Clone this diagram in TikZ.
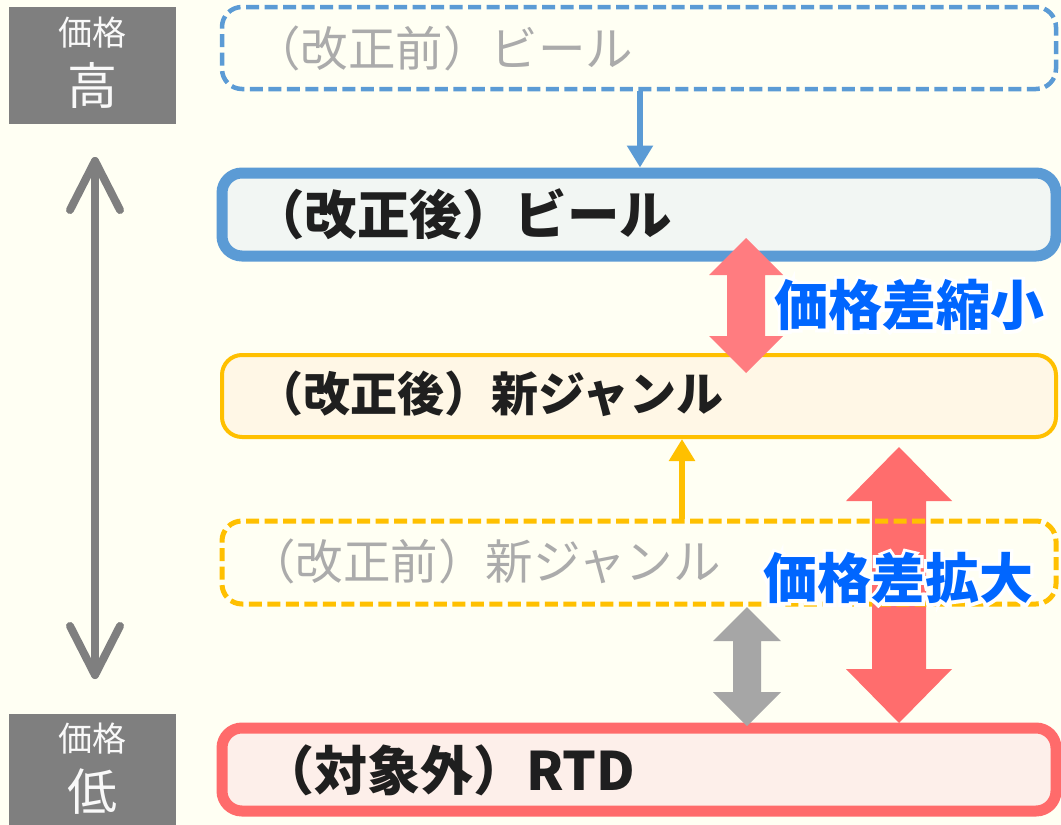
\documentclass[tikz,border=0pt]{standalone}
\usepackage{fontspec}
\newfontfamily\jp{Noto Sans CJK JP}
\newfontfamily\jpglow{Noto Sans CJK JP}[FakeBold=12]
\usetikzlibrary{arrows.meta}
\definecolor{bg}{HTML}{FFFFF3}
\definecolor{lblgray}{HTML}{7F7F7F}
\definecolor{bblue}{HTML}{5B9BD5}
\definecolor{yel}{HTML}{FFC000}
\definecolor{redb}{HTML}{FF6B6B}
\definecolor{pinkA}{HTML}{FF7C80}
\definecolor{redA}{HTML}{FF6D6D}
\definecolor{grayA}{HTML}{A6A6A6}
\definecolor{txtgray}{HTML}{ABABAB}
\definecolor{txtblue}{HTML}{0066FF}
\definecolor{fillblue}{HTML}{F2F6F3}
\definecolor{fillyel}{HTML}{FFF7E6}
\definecolor{fillred}{HTML}{FDEFEA}
\newcommand\blockarrow[7]{% color, cx, ytop, ybot, headlen, headhalf, shafthalf
  \fill[#1] (#2,#3) -- ++(#6,#5) -- (#2+#7,#3+#5) -- (#2+#7,#4-#5) -- (#2+#6,#4-#5)
    -- (#2,#4) -- (#2-#6,#4-#5) -- (#2-#7,#4-#5) -- (#2-#7,#3+#5) -- (#2-#6,#3+#5) -- cycle;}
\tikzset{
  lblbox/.style={fill=lblgray, inner sep=0pt, minimum width=167pt},
  lbltext/.style={text=white!95!gray, inner sep=0pt, font=\jp\fontsize{34}{34}\selectfont},
  lblbig/.style={text=white!95!gray, inner sep=0pt, font=\jp\fontsize{50}{50}\selectfont},
  catbox/.style={rounded corners=20pt, minimum width=834pt, inner sep=0pt},
  oldtext/.style={anchor=west, inner sep=0pt, text=txtgray, font=\jp\fontsize{47.5}{48}\selectfont},
  newtext/.style={anchor=west, inner sep=0pt, text=black!88, font=\jp\bfseries\fontsize{47}{47}\selectfont},
  gaptext/.style={inner sep=0pt, font=\jp\bfseries\fontsize{54}{54}\selectfont},
  glowtext/.style={inner sep=0pt, text=white, font=\jpglow\bfseries\fontsize{54}{54}\selectfont},
  vline/.style={draw=lblgray, line width=8pt, line cap=round, line join=round},
  shiftarrow/.style={line width=6pt, -{Triangle[length=22pt,width=25pt]}},
  olddash/.style={dash pattern=on 13pt off 5.5pt},
}
\begin{document}
\begin{tikzpicture}[x=1pt,y=-1pt]
\fill[bg] (0,0) rectangle (1061,825);
\useasboundingbox (0,0) rectangle (1061,825);
% price labels
\node[lblbox, minimum height=117pt] (hbox) at (92.5,65.5) {};
\node[lbltext] (hk) at (92,33) {価格};
\node[lblbig] (hv) at (92,85) {高};
\node[lblbox, minimum height=111pt] (lbox) at (92.5,769.5) {};
\node[lbltext] (lk) at (92,739) {価格};
\node[lblbig] (lv) at (92,792) {低};
% vertical price axis
\coordinate (hi) at (95,161);
\coordinate (lo) at (95,675);
\draw[vline] (hi) -- (lo);
\draw[vline] (hi) ++(-25,49) -- (hi) -- ++(25,49);
\draw[vline] (lo) ++(-25,-49) -- (lo) -- ++(25,-49);
% category boxes
\node[catbox, draw=bblue, line width=4.5pt, olddash, minimum height=82pt] (b1) at (639,48) {};
\node[catbox, draw=bblue, fill=fillblue, line width=11pt, minimum height=83pt] (b2) at (639,214.5) {};
\node[catbox, draw=yel, fill=fillyel, line width=4pt, minimum height=82pt] (b3) at (639,396) {};
\node[catbox, draw=redb, fill=fillred, line width=11pt, minimum height=83pt] (b5) at (639,769.5) {};
% shift connectors
\coordinate (xb) at (640,0);
\coordinate (xo) at (682,0);
\draw[shiftarrow, bblue] (b1.south -| xb) -- (b2.north -| xb);
% gap arrows
\blockarrow{redA}{899}{447}{723}{54}{53}{27}
\node[catbox, draw=yel, line width=5pt, olddash, minimum height=83pt] (b4) at (639,562.5) {};
\draw[shiftarrow, yel] (b4.north -| xo) -- (b3.south -| xo);
\blockarrow{pinkA}{746}{238}{373}{37}{37}{19}
\blockarrow{grayA}{747}{607}{726}{34}{34}{14}
% texts
\node[oldtext] (t1) at (253,48) {（改正前）ビール};
\node[newtext, font=\jp\bfseries\fontsize{52.5}{52}\selectfont] (t2) at (252,214) {（改正後）ビール};
\node[newtext] (t3) at (256,394) {（改正後）新ジャンル};
\node[oldtext] (t4) at (248,561) {（改正前）新ジャンル};
\node[newtext, font=\jp\bfseries\fontsize{53}{53}\selectfont] (t5) at (261,770) {（対象外）RTD};
% gap labels with glow
\node[glowtext] (g1w) at (909.5,305) {価格差縮小};
\node[glowtext] (g2w) at (898,578) {価格差拡大};
\node[gaptext, text=txtblue] (g1) at (909.5,305) {価格差縮小};
\node[gaptext, text=txtblue] (g2) at (898,578) {価格差拡大};
\end{tikzpicture}
\end{document}
